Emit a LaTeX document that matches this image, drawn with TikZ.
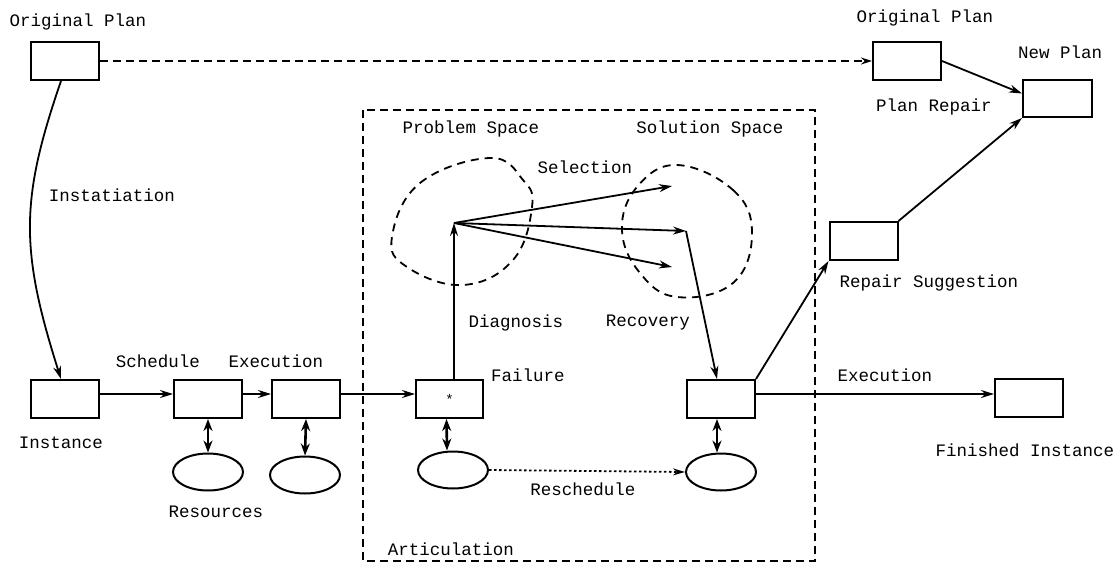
\documentclass[tikz,border=0pt]{standalone}
\usepackage{fontspec}
\newfontfamily\monofam{Liberation Mono}
\usetikzlibrary{shapes.geometric,arrows.meta,calc}
\begin{document}
\begin{tikzpicture}[x=1pt,y=-1pt,
  box/.style={draw,line width=2pt,rectangle,minimum width=68pt,minimum height=38pt,inner sep=0pt},
  res/.style={draw,line width=2pt,ellipse,minimum width=70pt,minimum height=37pt,inner sep=0pt},
  lbl/.style={inner sep=0pt,font=\monofam\fontsize{17.5}{20}\selectfont},
  conn/.style={line width=1.8pt,-{Stealth[length=13pt,width=8pt]}},
  dbl/.style={line width=2.6pt,{Stealth[length=12pt,width=9pt]}-{Stealth[length=12pt,width=9pt]}},
  dsh/.style={line width=1.8pt,dash pattern=on 8pt off 5pt},
  blob/.style={line width=1.8pt,dash pattern=on 8pt off 6pt}]
\useasboundingbox (0,0) rectangle (1120,565);
% boxes
\node[box] (op1) at (65,61) {};
\node[box] (op2) at (907,61) {};
\node[box,minimum width=69pt,minimum height=37pt] (np) at (1057.5,98.5) {};
\node[box] (rs) at (863.5,241) {};
\node[box] (inst) at (65,399) {};
\node[box] (sch) at (208,399) {};
\node[box] (exe) at (306,399) {};
\node[box,minimum width=67pt] (fail) at (449.5,399) {\monofam\fontsize{14}{14}\selectfont *};
\node[box] (rb) at (721,399) {};
\node[box] (fin) at (1029,398) {};
% resources
\node[res] (e1) at (208,472) {};
\node[res] (e2) at (305,475) {};
\node[res] (e3) at (453,470) {};
\node[res] (e4) at (721,472) {};
% articulation box
\draw[dsh] (363,110) rectangle (815,561);
% blobs
\draw[blob] plot[smooth cycle,tension=0.7] coordinates {(392,237) (420,183) (490,158) (523,180) (532,207) (513,260) (463,285) (407,267)};
\draw[blob] plot[smooth cycle,tension=0.7] coordinates {(677,165) (733,190) (752,233) (733,283) (677,297) (640,273) (622,230) (637,187)};
% coordinates
\coordinate (v) at (454,223);
\coordinate (s1) at (672,186);
\coordinate (s2) at (686,231);
\coordinate (s3) at (672,267);
% labels
\node[lbl] (lop1) at (78,22) {Original Plan};
\node[lbl] (lop2) at (925,18) {Original Plan};
\node[lbl] (lnp) at (1060,52) {New Plan};
\node[lbl] (lpr) at (934,107) {Plan Repair};
\node[lbl] (lrs) at (929,283) {Repair Suggestion};
\node[lbl] (linst) at (112,195) {Instatiation};
\node[lbl] (linstance) at (61,443) {Instance};
\node[lbl] (lsch) at (158,361) {Schedule};
\node[lbl] (lexe) at (276,361) {Execution};
\node[lbl] (lres) at (216,512) {Resources};
\node[lbl] (lfail) at (528,375) {Failure};
\node[lbl] (lresch) at (583,489) {Reschedule};
\node[lbl] (lart) at (451,549) {Articulation};
\node[lbl] (lexe2) at (885,375) {Execution};
\node[lbl] (lfin) at (1025,450) {Finished Instance};
\node[lbl] (lps) at (471,129) {Problem Space};
\node[lbl] (lss) at (710,129) {Solution Space};
\node[lbl] (lsel) at (585,167) {Selection};
\node[lbl] (ldiag) at (516,323) {Diagnosis};
\node[lbl] (lrec) at (648,323) {Recovery};
% connectors
\draw[dsh,-{Stealth[open,length=11pt,width=7pt]}] (op1.east) -- (op2.west);
\draw[conn] (op2.east) -- ($(np.west)+(0,-5)$);
\draw[conn] (rs.north east) -- (np.south west);
\draw[conn] (rb.north east) -- (rs.south west);
\draw[conn] ($(op1.south)+(-4,0)$) .. controls (20,200) and (20,250) .. ($(inst.north)+(-4,0)$);
\draw[conn] ($(inst.east)+(0,-5)$) -- ($(sch.west)+(0,-5)$);
\draw[conn] ($(sch.east)+(0,-5)$) -- ($(exe.west)+(0,-5)$);
\draw[conn] ($(exe.east)+(0,-5)$) -- ($(fail.west)+(0,-5)$);
\draw[conn] ($(rb.east)+(0,-5)$) -- ($(fin.west)+(0,-4)$);
\draw[dbl] (sch.south) -- (e1.north);
\draw[dbl] (exe.south) -- (e2.north);
\draw[dbl] ($(fail.south)+(-3,0)$) -- ($(e3.north)+(-6,0)$);
\draw[dbl] ($(rb.south)+(-4,0)$) -- ($(e4.north)+(-4,0)$);
\draw[line width=1.8pt,dash pattern=on 2.5pt off 2.5pt,-{Stealth[length=12pt,width=7pt]}] (e3.east) -- (e4.west);
\draw[conn] ($(fail.north)+(4.5,0)$) -- (v);
\draw[conn] (v) -- (s1);
\draw[conn] (v) -- (s2);
\draw[conn] (v) -- (s3);
\draw[conn] (s2) -- ($(rb.north)+(-4,0)$);
\end{tikzpicture}
\end{document}
